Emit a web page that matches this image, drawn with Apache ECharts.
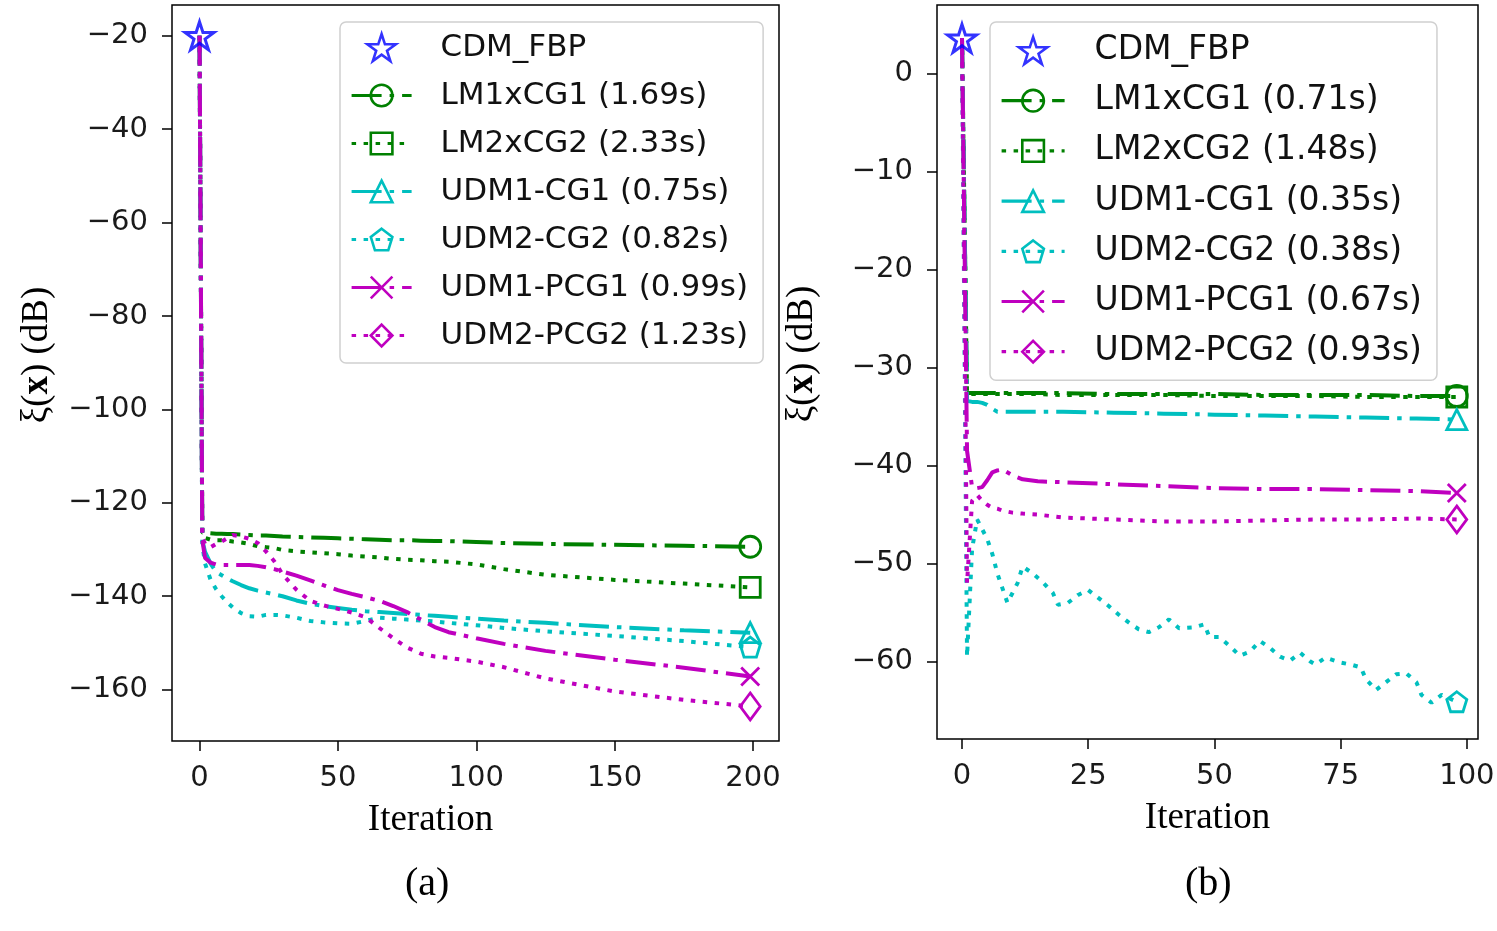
<!DOCTYPE html>
<html>
<head>
<meta charset="utf-8">
<script src="https://cdn.jsdelivr.net/npm/echarts@6/dist/echarts.min.js"></script>
<style>
  html, body { margin: 0; padding: 0; background: #fff; }
  #chart { width: 1497px; height: 931px; }
</style>
</head>
<body>
<div id="chart"></div>
<script>
// ---- (a) 200 iterations ----
const iterA = [0, 1, 2, 4, 6, 8, 10, 12, 15, 18, 21, 24, 27, 30, 35, 40, 45, 50, 55, 60, 65, 70, 75, 80, 85, 90, 100, 110, 125, 150, 175, 199];
const lm1A = [-20, -126.4, -126.4, -126.5, -126.6, -126.6, -126.7, -126.7, -126.8, -126.9, -127, -127, -127.1, -127.2, -127.3, -127.4, -127.5, -127.6, -127.7, -127.8, -127.9, -128, -128, -128.1, -128.2, -128.2, -128.4, -128.6, -128.8, -129, -129.2, -129.4];
const lm2A = [-20, -127, -127.5, -127.9, -128, -128, -128.1, -128.3, -128.5, -128.8, -129.3, -129.5, -129.7, -130.1, -130.4, -130.6, -130.8, -131, -131.3, -131.5, -131.7, -132, -132.2, -132.3, -132.5, -132.6, -133.2, -134.2, -135.4, -136.5, -137.3, -138.1];
const udm1cgA = [-20, -128, -130.5, -133, -134.8, -135.5, -136.2, -136.8, -137.6, -138.3, -138.8, -139.2, -139.6, -140, -140.9, -141.6, -142.1, -142.5, -142.9, -143.2, -143.4, -143.6, -143.8, -144, -144.2, -144.4, -144.8, -145.2, -145.7, -146.6, -147.3, -147.8];
const udm2cgA = [-20, -129, -133, -136.5, -138.5, -140, -141.3, -142.4, -143.6, -144.3, -144.4, -144, -144, -144.1, -144.6, -145.3, -145.6, -145.8, -145.9, -145.3, -144.6, -144.8, -145, -145.2, -145.4, -145.7, -146.2, -146.8, -147.5, -148.5, -149.6, -150.9];
const udm1pcgA = [-20, -128, -131.8, -132.8, -133.2, -133.3, -133.3, -133.3, -133.3, -133.3, -133.5, -133.8, -134.2, -134.7, -135.6, -136.6, -137.7, -138.7, -139.5, -140.2, -141, -142.1, -143.4, -145, -146.6, -147.7, -149, -150.2, -151.7, -153.6, -155.3, -157.2];
const udm2pcgA = [-20, -127.5, -128.8, -129.5, -128.8, -128.3, -127.6, -126.9, -127.2, -127.7, -128.6, -130.4, -132.5, -135.3, -138.6, -141, -142, -142.7, -143.5, -144.5, -146.8, -149, -151, -152.3, -152.9, -153.2, -154, -155.2, -157.6, -160.4, -162.2, -163.6];
const cdmA = [-20];
const namesA = ['CDM_FBP', 'LM1xCG1 (1.69s)', 'LM2xCG2 (2.33s)', 'UDM1-CG1 (0.75s)', 'UDM2-CG2 (0.82s)', 'UDM1-PCG1 (0.99s)', 'UDM2-PCG2 (1.23s)'];
const ticksXA = [0, 50, 100, 150, 200];
const ticksYA = [-20, -40, -60, -80, -100, -120, -140, -160];

// ---- (b) ~100 iterations ----
const iterB = [0, 1, 2, 3, 4, 5, 6, 7, 8, 10, 12, 15, 20, 30, 40, 50, 60, 70, 80, 90, 98];
const lm1B = [3.6, -32.6, -32.6, -32.6, -32.6, -32.6, -32.6, -32.6, -32.6, -32.6, -32.6, -32.6, -32.6, -32.7, -32.7, -32.7, -32.8, -32.8, -32.8, -32.9, -32.9];
const lm2B = [3.6, -32.7, -32.7, -32.7, -32.7, -32.7, -32.7, -32.7, -32.7, -32.7, -32.7, -32.7, -32.8, -32.8, -32.8, -32.9, -32.9, -32.9, -33, -33, -33];
const udm1cgB = [3.6, -33.4, -33.5, -33.5, -33.6, -33.8, -34.2, -34.5, -34.5, -34.5, -34.5, -34.5, -34.5, -34.6, -34.7, -34.8, -34.9, -35, -35.1, -35.2, -35.3];
const udm1pcgB = [3.6, -38.5, -42.2, -42.3, -42.2, -41.5, -40.7, -40.5, -40.4, -41, -41.4, -41.6, -41.7, -41.9, -42.1, -42.3, -42.4, -42.4, -42.5, -42.6, -42.8];
const udm2pcgB = [3.6, -52, -43.6, -43, -43.6, -44, -44.3, -44.4, -44.6, -44.8, -44.9, -45, -45.3, -45.5, -45.7, -45.7, -45.6, -45.5, -45.5, -45.4, -45.5];
const iterB2 = [0, 1, 2, 3, 5, 6, 7, 8, 9, 10, 11, 12, 14, 16, 18, 19, 21, 23, 25, 27, 29, 31, 33, 35, 37, 39, 41, 43, 46, 48, 49, 51, 53, 55, 57, 59, 61, 63, 65, 67, 69, 70, 72, 75, 77, 79, 80, 82, 84, 86, 88, 90, 91, 93, 95, 98];
const udm2cgB = [3.6, -59.5, -48.5, -45.5, -47.5, -49, -51, -52.5, -54, -53, -52, -50.3, -51, -51.9, -53, -54.2, -54, -53.2, -52.7, -53.5, -54.3, -55.2, -56, -56.7, -57, -56.5, -55.7, -56.6, -56.5, -56.2, -57.5, -57.5, -58.4, -59.4, -59, -57.9, -58.6, -59.5, -59.9, -59.1, -60, -60.3, -59.6, -60.1, -60.3, -60.6, -61.8, -62.9, -62.1, -61.3, -61.2, -62.1, -63.4, -64.2, -63.4, -64.1];
const cdmB = [3.6];
const namesB = ['CDM_FBP', 'LM1xCG1 (0.71s)', 'LM2xCG2 (1.48s)', 'UDM1-CG1 (0.35s)', 'UDM2-CG2 (0.38s)', 'UDM1-PCG1 (0.67s)', 'UDM2-PCG2 (0.93s)'];
const ticksXB = [0, 25, 50, 75, 100];
const ticksYB = [0, -10, -20, -30, -40, -50, -60];

const GREEN = '#008000', CYAN = '#00bfbf', MAGENTA = '#bf00bf', BLUE = '#0000ff';
const STAR = 'path://M50 0L61.23 34.55L97.55 34.55L68.16 55.9L79.39 90.45L50 69.1L20.61 90.45L31.84 55.9L2.45 34.55L38.77 34.55Z';
const PENT = 'path://M50 0L97.55 34.55L79.39 90.45L20.61 90.45L2.45 34.55Z';
const CROSS = 'path://M0 0L10 10M10 0L0 10';
const DASHDOT = [30, 8, 4.5, 8];
const DOTTED = [4.5, 7.5];
const SANS = 'DejaVu Sans';
const SERIF = 'Liberation Serif';

// marker only on the last point, like markevery
function lineSeries(name, xs, ys, color, dash, symbol, size, idx) {
  const last = ys.length - 1;
  return {
    name: name,
    type: 'line',
    xAxisIndex: idx,
    yAxisIndex: idx,
    data: ys.map((v, i) => i === last ? [xs[i], v] : { value: [xs[i], v], symbol: 'none' }),
    symbol: symbol,
    symbolSize: size,
    showSymbol: true,
    showAllSymbol: true,
    lineStyle: { color: color, width: 4, type: dash, cap: 'butt' },
    itemStyle: { color: 'rgba(255,255,255,0)', borderColor: color, borderWidth: 2.8 },
    emphasis: { disabled: true },
  };
}

function starSeries(ys, idx) {
  return {
    name: 'CDM_FBP',
    type: 'scatter',
    xAxisIndex: idx,
    yAxisIndex: idx,
    data: ys.map((v) => [0, v]),
    symbol: STAR,
    symbolSize: [29, 28],
    itemStyle: { color: 'rgba(255,255,255,0)', borderColor: BLUE, borderWidth: 3 },
    emphasis: { disabled: true },
    z: 3,
  };
}

const minus = (v) => String(v).replace('-', '\u2212');

function xAxis(idx, min, max, ticks, padRight) {
  return {
    type: 'value', gridIndex: idx, min: min, max: max,
    name: 'Iteration', nameLocation: 'middle', nameGap: 61,
    nameTextStyle: { fontFamily: SERIF, fontSize: 37, color: '#000', padding: [0, padRight, 0, 0] },
    axisLine: { show: false, onZero: false },
    axisTick: { show: true, customValues: ticks, length: 10, lineStyle: { color: '#000', width: 1.5 } },
    axisLabel: { customValues: ticks, formatter: minus, margin: 23, fontFamily: SANS, fontSize: 29, color: '#1a1a1a' },
    splitLine: { show: false },
  };
}

function yAxis(idx, min, max, ticks) {
  return {
    type: 'value', gridIndex: idx, min: min, max: max,
    name: '{n|\u03be(}{b|x}{n|) (dB)}', nameLocation: 'middle', nameGap: 116,
    nameTextStyle: {
      fontFamily: SERIF, fontSize: 37, color: '#000', padding: [0, 0, 0, 36],
      rich: {
        n: { fontFamily: SERIF, fontSize: 37, color: '#000' },
        b: { fontFamily: SERIF, fontSize: 37, color: '#000', fontWeight: 'bold' },
      },
    },
    axisLine: { show: false, onZero: false },
    axisTick: { show: true, customValues: ticks, length: 10, lineStyle: { color: '#000', width: 1.5 } },
    axisLabel: { customValues: ticks, formatter: minus, margin: 24, fontFamily: SANS, fontSize: 29, color: '#1a1a1a' },
    splitLine: { show: false },
  };
}

function legend(left, top, names, fontSize, iconW, gap, textPad, pad) {
  return {
    orient: 'vertical', left: left, top: top,
    data: names,
    itemWidth: iconW, itemHeight: 27, itemGap: gap,
    padding: pad,
    backgroundColor: '#fff', borderColor: '#d0d0d0', borderWidth: 1.5, borderRadius: 6,
    selectedMode: false,
    textStyle: { fontFamily: SANS, fontSize: fontSize, color: '#111', padding: [0, 0, 0, textPad] },
    lineStyle: { width: 3.2 },
    itemStyle: { borderWidth: 2.6 },
  };
}

const chart = echarts.init(document.getElementById('chart'));
chart.setOption({
  animation: false,
  backgroundColor: '#fff',
  grid: [
    { left: 172, top: 5, width: 607, height: 736, show: true, borderColor: '#000', borderWidth: 1.5, backgroundColor: 'transparent', outerBoundsMode: 'none' },
    { left: 937, top: 5, width: 541, height: 734, show: true, borderColor: '#000', borderWidth: 1.5, backgroundColor: 'transparent', outerBoundsMode: 'none' },
  ],
  xAxis: [xAxis(0, -9.95, 209.4, ticksXA, 90), xAxis(1, -4.95, 102.2, ticksXB, 0)],
  yAxis: [yAxis(0, -171, -13.4, ticksYA), yAxis(1, -67.9, 7.0, ticksYB)],
  legend: [
    legend(340, 22, namesA, 31, 60, 17, 24, [10, 15, 12, 10]),
    legend(990, 22, namesB, 33, 63, 17.2, 25, [12, 15, 12, 10]),
  ],
  graphic: [
    { type: 'text', left: 430 - 25, top: 864, style: { text: '(a)', font: '40px "Liberation Serif"', fill: '#000' } },
    { type: 'text', left: 1210 - 25, top: 864, style: { text: '(b)', font: '40px "Liberation Serif"', fill: '#000' } },
  ],
  series: [
    starSeries(cdmA, 0),
    lineSeries(namesA[1], iterA, lm1A, GREEN, DASHDOT, 'circle', 21, 0),
    lineSeries(namesA[2], iterA, lm2A, GREEN, DOTTED, 'rect', 20, 0),
    lineSeries(namesA[3], iterA, udm1cgA, CYAN, DASHDOT, 'triangle', 20, 0),
    lineSeries(namesA[4], iterA, udm2cgA, CYAN, DOTTED, PENT, 20, 0),
    lineSeries(namesA[5], iterA, udm1pcgA, MAGENTA, DASHDOT, CROSS, 18, 0),
    lineSeries(namesA[6], iterA, udm2pcgA, MAGENTA, DOTTED, 'diamond', [20, 27], 0),
    starSeries(cdmB, 1),
    lineSeries(namesB[1], iterB, lm1B, GREEN, DASHDOT, 'circle', 21, 1),
    lineSeries(namesB[2], iterB, lm2B, GREEN, DOTTED, 'rect', 20, 1),
    lineSeries(namesB[3], iterB, udm1cgB, CYAN, DASHDOT, 'triangle', 20, 1),
    lineSeries(namesB[4], iterB2, udm2cgB, CYAN, DOTTED, PENT, 20, 1),
    lineSeries(namesB[5], iterB, udm1pcgB, MAGENTA, DASHDOT, CROSS, 18, 1),
    lineSeries(namesB[6], iterB, udm2pcgB, MAGENTA, DOTTED, 'diamond', [20, 27], 1),
  ],
});
</script>
</body>
</html>
